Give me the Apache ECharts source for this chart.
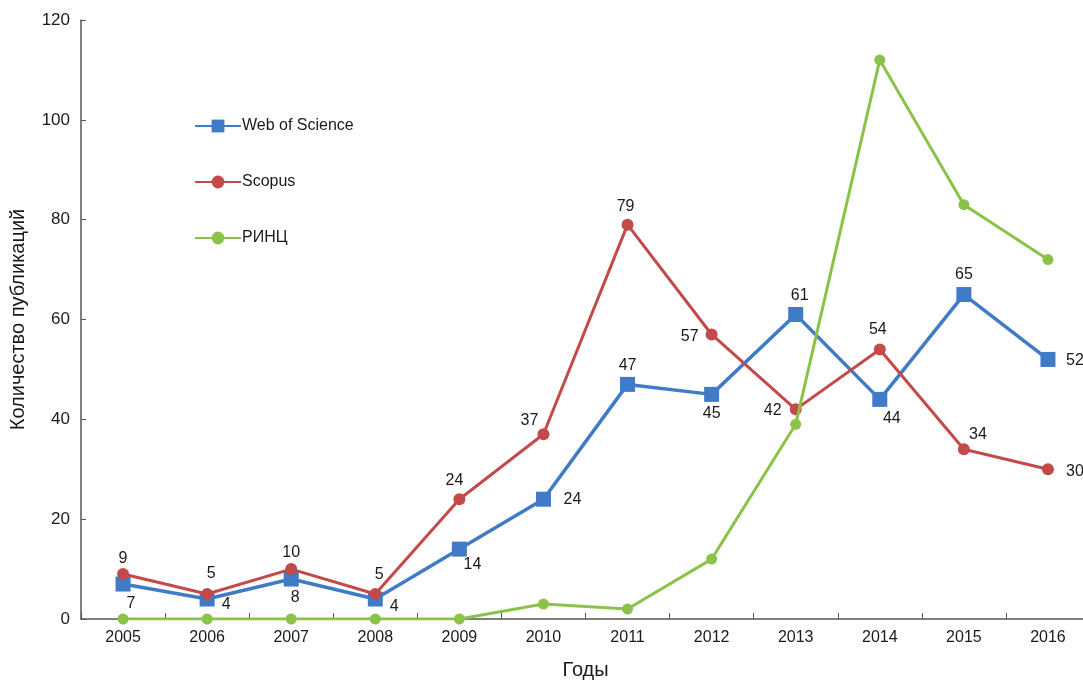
<!DOCTYPE html>
<html>
<head>
<meta charset="utf-8">
<script src="https://cdn.jsdelivr.net/npm/echarts@6/dist/echarts.min.js"></script>
<style>html,body{margin:0;padding:0;background:#fff}#c{width:1083px;height:681px}</style>
</head>
<body>
<div id="c"></div>
<script>
const years = ['2005','2006','2007','2008','2009','2010','2011','2012','2013','2014','2015','2016'];
const wos = [7,4,8,4,14,24,47,45,61,44,65,52];
const scopus = [9,5,10,5,24,37,79,57,42,54,34,30];
const rinc = [0,0,0,0,0,3,2,12,39,112,83,72];
const seriesNames = ['Web of Science','Scopus','РИНЦ'];
const yTicks = [0,20,40,60,80,100,120];

// label offsets (pixels) relative to point
const wosLabelOffsets = [[8,20],[19,6],[4,19],[19,8],[13,15],[29,0],[0,-19],[0,19],[4,-19],[12,19],[0,-20],[27,1]];
const scopusLabelOffsets = [[0,-15],[4,-20],[0,-16],[4,-19],[-5,-19],[-14,-14],[-2,-18],[-22,2],[-23,1],[-2,-20],[14,-15],[27,2]];

function withLabels(vals, offs){
  return vals.map((v,i)=>({value:v,label:{show:true,position:'inside',offset:offs[i]}}));
}
const labelStyle = {color:'#1a1a1a',fontSize:16,fontFamily:'Liberation Sans, Arial, sans-serif',align:'center',verticalAlign:'middle'};

const chart = echarts.init(document.getElementById('c'));
chart.setOption({
  backgroundColor:'#ffffff',
  animation:false,
  textStyle:{fontFamily:'Liberation Sans, Arial, sans-serif'},
  grid:{left:81,top:20,bottom:62,width:1009,containLabel:false,outerBoundsMode:'none'},
  legend:{
    orient:'vertical',left:189,top:113,itemGap:40,itemWidth:46,itemHeight:16,
    data:seriesNames,
    textStyle:{fontSize:16,color:'#1a1a1a',padding:[0,0,0,-4]}
  },
  xAxis:{
    type:'category',data:years,boundaryGap:true,
    name:'Годы',nameLocation:'middle',nameGap:41,
    nameTextStyle:{fontSize:20,color:'#1a1a1a'},
    axisLine:{lineStyle:{color:'#555',width:1.5}},
    axisTick:{show:true,inside:true,length:6,lineStyle:{color:'#555'}},
    axisLabel:{fontSize:16,color:'#1a1a1a',margin:11},
    splitLine:{show:false}
  },
  yAxis:{
    type:'value',min:0,max:120,interval:20,
    name:'Количество публикаций',nameLocation:'middle',nameGap:53,
    nameTextStyle:{fontSize:20,color:'#1a1a1a'},
    axisLine:{show:true,lineStyle:{color:'#555',width:1.5}},
    axisTick:{show:true,inside:true,length:5,lineStyle:{color:'#555'}},
    axisLabel:{fontSize:17,color:'#1a1a1a',margin:11},
    splitLine:{show:false}
  },
  series:[
    {name:seriesNames[0],type:'line',data:withLabels(wos,wosLabelOffsets),
     symbol:'rect',symbolSize:15,itemStyle:{color:'#3f7bc6'},
     lineStyle:{width:3.5,color:'#3f7bc6'},label:labelStyle,z:2},
    {name:seriesNames[1],type:'line',data:withLabels(scopus,scopusLabelOffsets),
     symbol:'circle',symbolSize:12,itemStyle:{color:'#c34a48'},
     lineStyle:{width:3,color:'#c34a48'},label:labelStyle,z:3},
    {name:seriesNames[2],type:'line',data:rinc,
     symbol:'circle',symbolSize:11,itemStyle:{color:'#8bc34a'},
     lineStyle:{width:3,color:'#8bc34a'},label:{show:false},z:4}
  ]
});
</script>
</body>
</html>
